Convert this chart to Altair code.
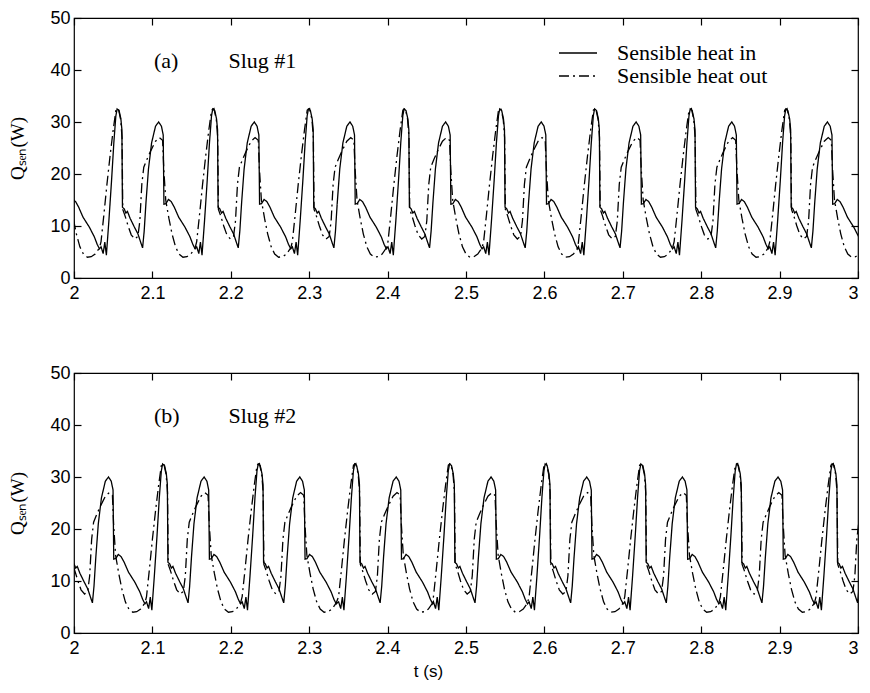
import altair as alt
import pandas as pd

# ---- values ----
series_names = ["Sensible heat in", "Sensible heat out"]

# one pulsation cycle, phase (s) measured from the 32 W peak of "Sensible heat in"
phase_in = [-0.0205, -0.0178, -0.0157, -0.0137, -0.0105, -0.0072, -0.0042, -0.0016,
            0.0000, 0.0025, 0.0048, 0.0061, 0.0068, 0.0090, 0.0112, 0.0132,
            0.0165, 0.0220, 0.0265, 0.0300, 0.0325, 0.0345, 0.0368, 0.0400,
            0.0440, 0.0490, 0.0530, 0.0565, 0.0588, 0.0597, 0.0622, 0.0655,
            0.0690, 0.0730, 0.0785, 0.0865, 0.0930, 0.0965, 0.0995]
q_in = [6.0, 4.7, 6.9, 4.4, 11.0, 18.5, 26.0, 31.2,
        32.5, 32.2, 30.6, 28.5, 13.6, 13.3, 12.5, 12.8,
        11.5, 9.8, 8.5, 6.9, 5.8, 9.0, 14.5, 21.0,
        26.0, 29.2, 30.0, 29.2, 27.5, 14.2, 14.3, 15.1,
        14.7, 13.6, 11.7, 9.8, 7.9, 6.5, 5.6]

phase_out = [-0.0205, -0.0170, -0.0130, -0.0090, -0.0050, -0.0015, 0.0015, 0.0045,
             0.0063, 0.0072, 0.0100, 0.0140, 0.0180, 0.0225, 0.0265, 0.0290,
             0.0315, 0.0340, 0.0380, 0.0430, 0.0490, 0.0540, 0.0580, 0.0595,
             0.0620, 0.0660, 0.0700, 0.0745, 0.0790, 0.0840, 0.0890, 0.0940, 0.0995]
q_out = [7.0, 12.0, 18.0, 23.5, 28.5, 32.3, 32.6, 30.5,
         27.0, 13.2, 12.0, 10.0, 8.3, 7.5, 8.0, 11.0,
         18.0, 21.3, 22.8, 24.5, 26.3, 27.0, 26.5, 21.0,
         15.0, 11.5, 8.5, 6.0, 4.6, 4.0, 4.1, 4.6, 5.8]

# times (s) of the 32 W peaks
peaks_a = [1.933, 2.055, 2.177, 2.299, 2.421, 2.543, 2.664, 2.786, 2.908]
peaks_b = [1.991, 2.113, 2.235, 2.358, 2.479, 2.601, 2.723, 2.845, 2.967]

x_ticks = [2.0, 2.1, 2.2, 2.3, 2.4, 2.5, 2.6, 2.7, 2.8, 2.9, 3.0]
y_ticks = [0, 10, 20, 30, 40, 50]

tag_a = ["(a)", "Slug #1"]
tag_b = ["(b)", "Slug #2"]
tag_t = [2.102, 2.197]
tag_q = [40.3, 40.3]

W, H = 784, 260
SANS = "Liberation Sans"
SERIF = "Liberation Serif"


def build(peaks):
    rows = []
    for p in peaks:
        for ph, q in zip(phase_in, q_in):
            rows.append({"t": round(p + ph, 4), "Q": q, "series": series_names[0]})
        for ph, q in zip(phase_out, q_out):
            rows.append({"t": round(p + ph, 4), "Q": q, "series": series_names[1]})
    return pd.DataFrame(rows)


def panel(peaks, tags, with_legend, xtitle):
    df = build(peaks)
    xs = alt.Scale(domain=[2, 3], nice=False, zero=False)
    ys = alt.Scale(domain=[0, 50], nice=False)

    ax_x = dict(orient="bottom", values=x_ticks, format="~g", ticks=False, domain=False,
                grid=False, labelFont=SANS, labelFontSize=18, labelColor="black",
                labelPadding=6, labelFlush=False, labelOverlap=False,
                labelAlign=alt.condition("datum.value >= 3", alt.value("right"),
                                         alt.value("center")),
                titleFont=SANS, titleFontSize=17, titleFontWeight="normal",
                titleColor="black", titlePadding=6, titleX=354)
    ax_y = alt.Axis(orient="left", values=y_ticks, ticks=False, domain=False, grid=False,
                    labelFont=SANS, labelFontSize=18, labelColor="black", labelPadding=4,
                    titleFont=SERIF, titleFontSize=19, titleFontWeight="normal",
                    titleColor="black", titlePadding=22)

    if with_legend:
        leg = alt.Legend(orient="none", legendX=493, legendY=24, title=None,
                         direction="vertical", symbolType="M-2,0H2", symbolSize=361,
                         symbolStrokeWidth=1.3, symbolStrokeColor="black",
                         symbolFillColor="transparent",
                         labelFont=SERIF, labelFontSize=22, labelColor="black",
                         labelOffset=28, rowPadding=1, padding=0)
    else:
        leg = None

    xenc_title = xtitle if xtitle else None
    lines = alt.Chart(df).mark_line(clip=True, color="black", strokeWidth=1.3).encode(
        x=alt.X("t:Q", scale=xs, axis=alt.Axis(**ax_x), title=xenc_title),
        y=alt.Y("Q:Q", scale=ys, axis=ax_y, title="Q\u209b\u2091\u2099(W)"),
        strokeDash=alt.StrokeDash("series:N",
                                  scale=alt.Scale(domain=series_names,
                                                  range=[[1, 0], [10, 4, 2, 4]]),
                                  legend=leg),
    )

    tdf = pd.DataFrame({"t": tag_t, "Q": tag_q, "label": tags})

    def tick_axis(orient, off, vals):
        return alt.Axis(orient=orient, offset=off, values=vals, labels=False, ticks=True,
                        tickSize=7, tickColor="black", tickWidth=1.2, domain=False,
                        grid=False)

    t1 = alt.Chart(tdf).transform_filter(alt.datum.label == tags[0]).mark_text(
        align="left", baseline="alphabetic", font=SERIF, fontSize=22, color="black"
    ).encode(
        x=alt.X("t:Q", scale=xs, axis=tick_axis("top", -H, x_ticks), title=None),
        y=alt.Y("Q:Q", scale=ys, axis=tick_axis("right", -W, y_ticks), title=None),
        text="label:N",
    )
    t2 = alt.Chart(tdf).transform_filter(alt.datum.label == tags[1]).mark_text(
        align="left", baseline="alphabetic", font=SERIF, fontSize=22, color="black"
    ).encode(
        x=alt.X("t:Q", scale=xs, axis=tick_axis("bottom", -H, x_ticks), title=None),
        y=alt.Y("Q:Q", scale=ys, axis=tick_axis("left", -W, y_ticks), title=None),
        text="label:N",
    )
    return alt.layer(lines, t1, t2).resolve_axis(
        x="independent", y="independent"
    ).properties(width=W, height=H)


pa = panel(peaks_a, tag_a, True, None)
pb = panel(peaks_b, tag_b, False, "t (s)")

chart = alt.vconcat(pa, pb, spacing=60).resolve_scale(
    strokeDash="independent"
).resolve_legend(
    strokeDash="independent"
).properties(
    padding={"left": 0, "top": 0, "right": 1, "bottom": 2}
).configure_view(
    stroke="black", strokeWidth=1.2
)

chart.save("out.html", embed_options={"renderer": "svg", "actions": False})
